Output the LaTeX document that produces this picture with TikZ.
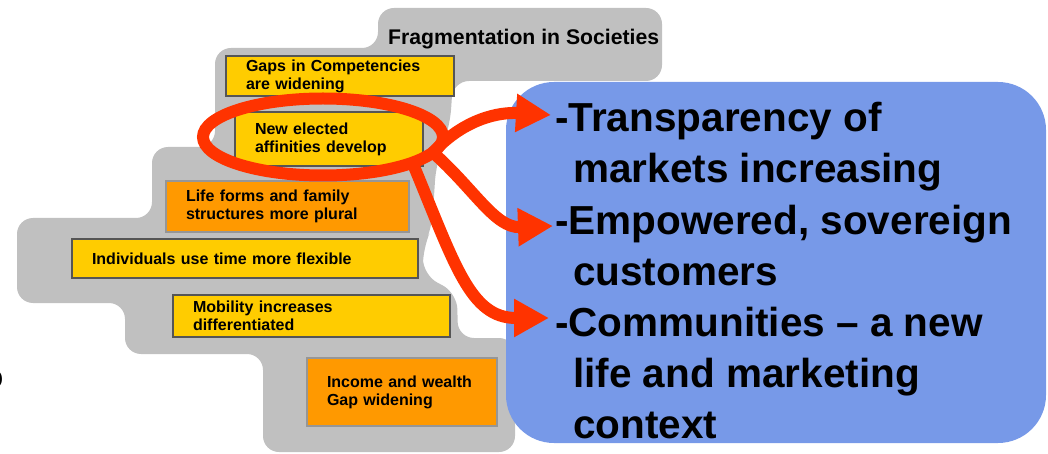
\documentclass[tikz,border=0pt]{standalone}
\usepackage{fontspec}
\setmainfont{Liberation Sans}
\usetikzlibrary{shapes.geometric,arrows.meta}
\definecolor{blobgray}{RGB}{192,192,192}
\definecolor{factyellow}{RGB}{255,204,0}
\definecolor{factorange}{RGB}{255,153,0}
\definecolor{factline}{RGB}{85,85,85}
\definecolor{warmline}{RGB}{150,150,150}
\definecolor{panelblue}{RGB}{119,153,232}
\definecolor{arrowred}{RGB}{255,51,0}
\tikzset{
  fact/.style={draw=factline, fill=factyellow, line width=1.5pt, inner xsep=20pt, inner ysep=0pt, align=left, font=\bfseries\fontsize{16pt}{18pt}\selectfont},
  warm/.style={fact, draw=warmline, fill=factorange},
  ring/.style={ellipse, draw=arrowred, line width=12pt, inner sep=0pt, outer sep=0pt},
  push/.style={-{Triangle[length=35pt,width=36pt]}, draw=arrowred, line width=12pt},
  big/.style={anchor=base west, inner sep=0pt, font=\bfseries\fontsize{40.5pt}{51pt}\selectfont}
}
\newcommand{\indnt}{\hspace*{18pt}}

\begin{document}
\begin{tikzpicture}[x=1pt, y=-1pt]
  \useasboundingbox (0,0) rectangle (1048,454);

  % grey cloud behind the trends
  \fill[blobgray, rounded corners=16pt] (378,8) -- (662,8) -- (662,81) -- (453,81)
    -- (450,125) -- (436,165) -- (432,228) -- (423,248) -- (423,275) -- (457,293)
    -- (458,338) -- (515,338) -- (515,452)
    -- (263,452) -- (263,354) -- (125,354) -- (125,303) -- (17,303) -- (17,218)
    -- (152,218) -- (152,147) -- (215,147) -- (215,48) -- (378,48) -- cycle;
  \node[anchor=base west, inner sep=0pt, font=\bfseries\fontsize{21.2pt}{24pt}\selectfont] (title) at (388,45) {Fragmentation in Societies};

  % trends
  \node[fact, text width=188pt, minimum height=40pt] (gaps) at (340,76) {Gaps in Competencies\\are widening};
  \node[fact, text width=148pt, minimum height=54pt] (affin) at (329,139) {New elected\\affinities develop};
  \node[warm, text width=203pt, minimum height=51pt] (life) at (287.5,206.5) {Life forms and family\\structures more plural};
  \node[fact, text width=306pt, minimum height=39pt] (indiv) at (245,258.5) {Individuals use time more flexible};
  \node[fact, text width=237pt, minimum height=42pt] (mobil) at (311.5,316) {Mobility increases\\differentiated};
  \node[warm, text width=150pt, minimum height=68pt] (income) at (402,392) {Income and wealth\\Gap widening};

  % consequences
  \node[fill=panelblue, rounded corners=48pt, minimum width=540pt, minimum height=361pt] (panel) at (776,262.5) {};
  \foreach \txt [count=\i] in {{-Transparency of}, {\indnt markets increasing}, {-Empowered, sovereign}, {\indnt customers}, {-Communities – a new}, {\indnt life and marketing}, {\indnt context}}
    \node[big] (line\i) at (555,{132+51*(\i-1)}) {\txt};

  \node[anchor=center, inner sep=0pt, font=\bfseries\fontsize{34pt}{40pt}\selectfont] (cut) at (-7,380) {o};

  % highlight and links
  \node[ring, minimum width=240pt, minimum height=77pt] (ring) at (323,137) {};
  \coordinate (tip1) at (551,115);
  \coordinate (tip2) at (553,226);
  \coordinate (tip3) at (549,318);
  \draw[push] (ring.-8) .. controls (465,118) and (500,112) .. (tip1);
  \draw[push] (ring.-8) .. controls (475,190) and (495,228) .. (tip2);
  \draw[push] (ring.-16) .. controls (455,265) and (470,318) .. (tip3);
\end{tikzpicture}
\end{document}
